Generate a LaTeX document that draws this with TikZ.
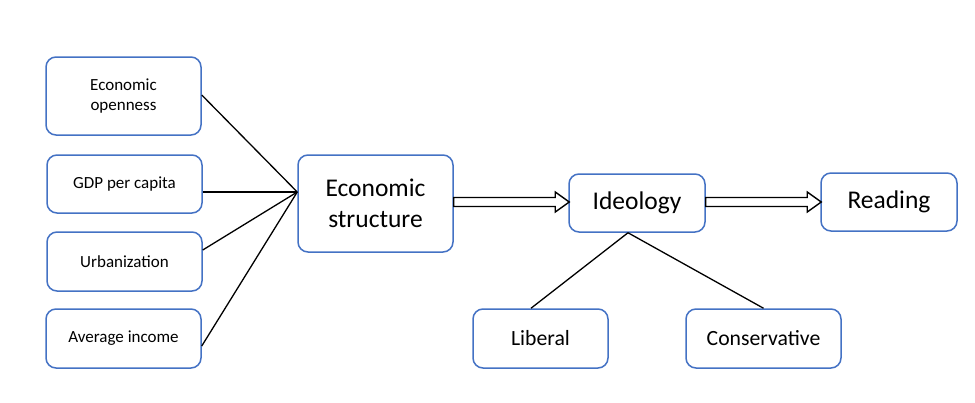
\documentclass[tikz,border=0pt]{standalone}
\usepackage{fontspec}
\setmainfont{Carlito}
\usetikzlibrary{calc}
\definecolor{boxblue}{RGB}{68,114,196}
\begin{document}
\begin{tikzpicture}[x=1pt,y=-1pt,
  box/.style={draw=boxblue,line width=1.5pt,rounded corners=10pt,inner sep=0pt,align=center,text=black},
  small/.style={box,font=\fontsize{17}{20.5}\selectfont},
  big/.style={box,font=\fontsize{25.5}{31}\selectfont},
  mid/.style={box,font=\fontsize{21.7}{26}\selectfont},
  link/.style={draw=black,line width=1.3pt},
  hollow/.style={draw=black,line width=1.4pt,fill=white,line join=miter}]
\useasboundingbox (0,0) rectangle (975,402);
\node[small,minimum width=155pt,minimum height=78pt] (eo) at (123.5,96) {Economic\\openness};
\node[small,minimum width=155pt,minimum height=58pt] (gdp) at (124.5,184) {GDP per capita};
\node[small,minimum width=155pt,minimum height=59pt] (urb) at (124.5,261.5) {Urbanization};
\node[small,minimum width=155pt,minimum height=59pt] (avg) at (123.5,338.5) {Average income};
\node[big,minimum width=155pt,minimum height=97pt] (es) at (375.5,203.5) {Economic\\structure};
\node[big,minimum width=136pt,minimum height=58pt] (ide) at (637,203) {Ideology};
\node[big,minimum width=136pt,minimum height=58pt] (read) at (889,202) {Reading};
\node[mid,minimum width=135pt,minimum height=59pt] (lib) at (540.5,338.5) {Liberal};
\node[mid,minimum width=155pt,minimum height=59pt] (con) at (763.5,338.5) {Conservative};
% hub lines
\coordinate (hub) at ($(es.west)+(0,-11.5)$);
\draw[link] ($(eo.east)+(0,-1)$) -- (hub);
\draw[link] ($(gdp.east)+(0,8)$) -- (hub);
\draw[link] ($(urb.east)+(0,-11.5)$) -- (hub);
\draw[link] ($(avg.east)+(0,7.5)$) -- (hub);
% ideology branches
\coordinate (ib) at ($(ide.south)+(-9,0)$);
\draw[link] (ib) -- ($(lib.north)+(-9.5,0)$);
\draw[link] (ib) -- (con.north);
% hollow arrows
\draw[hollow] let \p1=(es.east), \p2=(ide.west) in
  (\x1,\y2+1pt+4.5pt) -- (\x2-13pt,\y2+1pt+4.5pt) -- (\x2-13pt,\y2+1pt+10pt) -- (\x2+1pt,\y2+1pt)
  -- (\x2-13pt,\y2+1pt-10pt) -- (\x2-13pt,\y2+1pt-4.5pt) -- (\x1,\y2+1pt-4.5pt) -- cycle;
\draw[hollow] let \p1=(ide.east), \p2=(read.west) in
  (\x1,\y2+4.5pt) -- (\x2-13pt,\y2+4.5pt) -- (\x2-13pt,\y2+10pt) -- (\x2+1pt,\y2)
  -- (\x2-13pt,\y2-10pt) -- (\x2-13pt,\y2-4.5pt) -- (\x1,\y2-4.5pt) -- cycle;
\end{tikzpicture}
\end{document}
